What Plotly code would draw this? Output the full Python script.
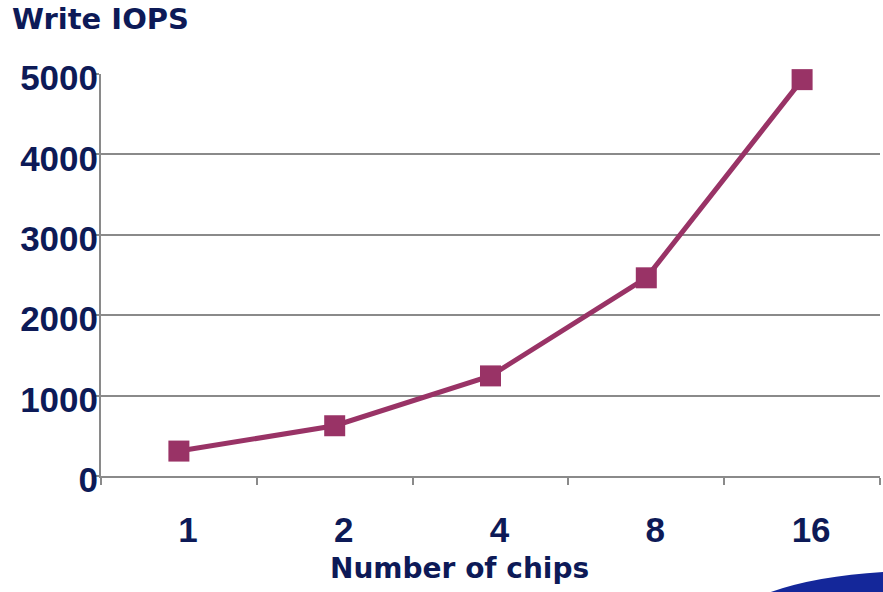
import plotly.graph_objects as go

# Write IOPS measured for each chip count
chips = ["1", "2", "4", "8", "16"]
write_iops = [310, 625, 1245, 2465, 4930]
y_ticks = [0, 1000, 2000, 3000, 4000, 5000]

navy = "#0D1A57"
plum = "#993366"
grid = "#8A8A8A"

W, H = 883, 592
L, R, T, B = 101, 3, 74, 116
pw, ph = W - L - R, H - T - B


def px(x):
    return (x - L) / pw


def py(y):
    return (H - B - y) / ph


fig = go.Figure()
fig.add_trace(go.Scatter(
    x=chips, y=write_iops, mode="lines+markers",
    line=dict(color=plum, width=5),
    marker=dict(symbol="square", size=21, color=plum),
    showlegend=False, cliponaxis=False,
))

fig.update_layout(
    width=W, height=H,
    margin=dict(l=L, r=R, t=T, b=B),
    paper_bgcolor="white", plot_bgcolor="white",
    font=dict(family="Liberation Sans, Arial", color=navy),
)

tick_font = dict(family="Liberation Sans, Arial", size=35, color=navy, weight="bold")

fig.update_xaxes(
    type="category", range=[-0.5, 4.5],
    showgrid=False, showline=True, linecolor=grid, linewidth=2,
    ticks="outside", tickson="boundaries", ticklen=7, tickwidth=2, tickcolor=grid,
    tickfont=tick_font,
    ticklabelstandoff=22, ticklabelshift=9,
)
fig.update_yaxes(
    range=[0, 5000], tickvals=y_ticks,
    showgrid=True, gridcolor=grid, gridwidth=2,
    showline=True, linecolor=grid, linewidth=2,
    ticks="outside", ticklen=7, tickwidth=2, tickcolor=grid,
    tickfont=tick_font,
    ticklabelstandoff=-13, ticklabelshift=4, zeroline=False,
)

# chart title and axis title
fig.add_annotation(
    text="<b>Write IOPS</b>", xref="paper", yref="paper",
    x=px(10), y=py(19), xanchor="left", yanchor="middle", showarrow=False,
    font=dict(family="DejaVu Sans", size=29, color=navy),
)
fig.add_annotation(
    text="<b>Number of chips</b>", xref="paper", yref="paper",
    x=px(459), y=py(568), xanchor="center", yanchor="middle", showarrow=False,
    font=dict(family="DejaVu Sans", size=28, color=navy),
)

# blue swoosh in the lower-right corner
path = (f"M {px(768)},{py(593)} Q {px(815)},{py(576)} {px(884)},{py(572)} "
        f"L {px(884)},{py(593)} Z")
fig.add_shape(type="path", path=path, xref="paper", yref="paper",
              fillcolor="#14279A", line=dict(width=0), layer="above")

fig.write_html("out.html")
